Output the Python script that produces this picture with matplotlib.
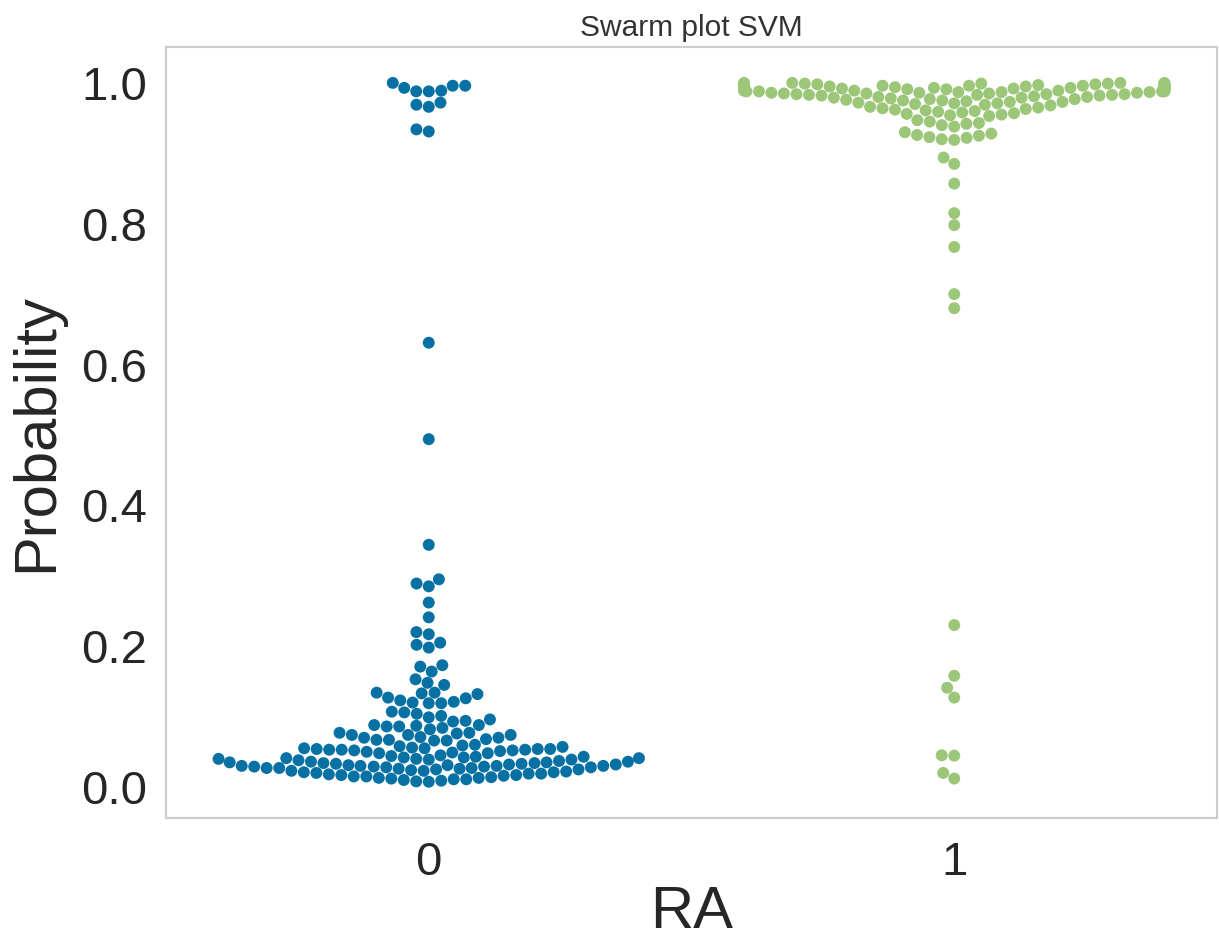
import matplotlib
matplotlib.use("Agg")
import matplotlib.pyplot as plt
import seaborn as sns
import pandas as pd

ra0 = [1.000, 0.996, 0.996, 0.993, 0.989, 0.988, 0.988, 0.972, 0.969, 0.966, 0.934, 0.931,
       0.631, 0.494, 0.344, 0.295, 0.289, 0.285, 0.262, 0.241, 0.220, 0.217, 0.205, 0.202,
       0.198, 0.173, 0.171, 0.164, 0.153, 0.148, 0.145,
       0.134, 0.134, 0.133, 0.132, 0.127,
       0.126, 0.123, 0.121, 0.120, 0.119, 0.119,
       0.107, 0.106, 0.104,
       0.101, 0.099, 0.096, 0.094, 0.093,
       0.088, 0.088, 0.087, 0.086, 0.086, 0.084, 0.082,
       0.077, 0.077, 0.076, 0.074, 0.074, 0.074, 0.071, 0.070, 0.070, 0.068, 0.067, 0.067,
       0.066, 0.066,
       0.060, 0.059, 0.058, 0.057, 0.056, 0.055, 0.055, 0.054, 0.054, 0.054, 0.053, 0.053,
       0.053, 0.052, 0.052, 0.051, 0.050, 0.049, 0.048, 0.048,
       0.045, 0.044, 0.043, 0.043, 0.042, 0.042, 0.041, 0.041, 0.040,
       0.040, 0.039, 0.039, 0.038, 0.037,
       0.036, 0.036, 0.035, 0.035, 0.034, 0.034, 0.033, 0.033, 0.032, 0.032, 0.031, 0.031,
       0.030, 0.030, 0.029, 0.028, 0.027, 0.026,
       0.030, 0.030, 0.029, 0.029, 0.028, 0.027, 0.027, 0.026, 0.025, 0.025, 0.024, 0.023,
       0.023, 0.022, 0.021, 0.021, 0.020, 0.019, 0.019, 0.018, 0.017, 0.017, 0.016, 0.015,
       0.015, 0.014, 0.013, 0.013, 0.012, 0.011, 0.011, 0.010, 0.009, 0.008, 0.0075]

# class RA = 1
ra1 = [0.012, 0.020, 0.0445, 0.045, 0.127, 0.141, 0.158, 0.230,
       0.680, 0.700, 0.767, 0.798, 0.815, 0.857, 0.885, 0.894,
       0.919, 0.920, 0.922, 0.923, 0.925, 0.926, 0.928, 0.930,
       0.938, 0.940, 0.942, 0.943, 0.945, 0.947,
       0.953, 0.954, 0.955, 0.956, 0.957, 0.958, 0.959, 0.960, 0.961, 0.962, 0.963, 0.964,
       0.965, 0.966,
       0.968, 0.969, 0.970, 0.971, 0.971, 0.972, 0.973, 0.973, 0.974, 0.975, 0.975, 0.976,
       0.977, 0.977, 0.978, 0.979, 0.979, 0.980, 0.980, 0.981,
       0.982, 0.982, 0.983, 0.983, 0.983, 0.984, 0.984, 0.984, 0.985, 0.985, 0.985, 0.986,
       0.986, 0.986, 0.987, 0.987, 0.987, 0.988, 0.988, 0.988, 0.988, 0.989, 0.989, 0.989,
       0.989, 0.990, 0.990, 0.990, 0.990, 0.991, 0.991, 0.991, 0.991, 0.992, 0.992, 0.992,
       0.993, 0.993, 0.993, 0.994, 0.994, 0.994, 0.994, 0.995, 0.995, 0.995, 0.995, 0.996,
       0.996, 0.996, 0.996, 0.997, 0.997, 0.997, 0.997, 0.998, 0.998, 0.998, 0.998, 0.998,
       0.999, 0.999, 0.999, 0.999, 0.999, 1.0, 1.0, 1.0, 1.0]

colors = ["#0771A4", "#9CC779"]

df = pd.DataFrame({"RA": [0] * len(ra0) + [1] * len(ra1),
                   "Probability": ra0 + ra1})

sns.set_style("whitegrid")
plt.rcParams["font.family"] = ["Liberation Sans", "DejaVu Sans"]

fig = plt.figure(figsize=(12.19, 9.41), dpi=100)
ax = fig.add_axes([166 / 1219, 123 / 941, 1051 / 1219, 771 / 941])

sns.swarmplot(data=df, x="RA", y="Probability", hue="RA", palette=colors,
              size=8.6, legend=False, ax=ax)

ax.grid(False)
ax.set_ylim(-0.044, 1.051)
ax.set_xlim(-0.5, 1.5)
for s in ax.spines.values():
    s.set_color("#cccccc")
    s.set_linewidth(1.5)

ax.tick_params(axis="y", labelsize=34, pad=10, colors="#262626")
ax.tick_params(axis="x", labelsize=34, pad=13, colors="#262626")
ax.set_xlabel("RA", fontsize=43, color="#262626", labelpad=0)
ax.set_ylabel("Probability", fontsize=43, color="#262626", labelpad=12)
ax.set_title("Swarm plot SVM", fontsize=21.5, color="#333333", pad=7.7)

plt.savefig("out.png", dpi=100)
